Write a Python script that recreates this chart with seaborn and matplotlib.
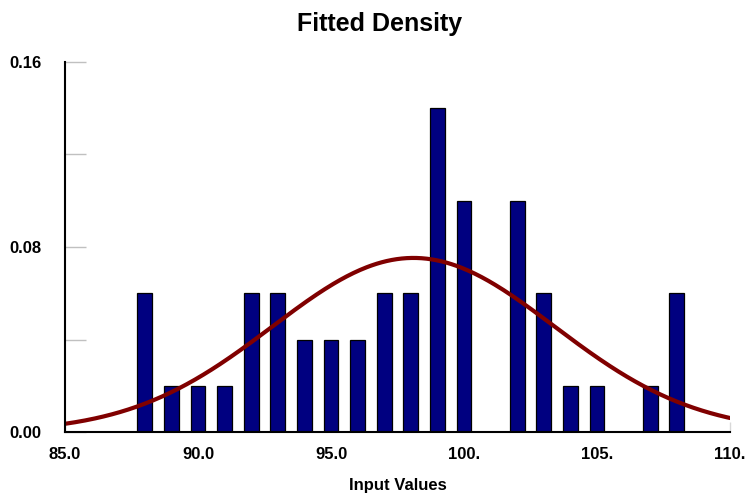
import numpy as np
import pandas as pd
import matplotlib
matplotlib.use("Agg")
import matplotlib.pyplot as plt
import seaborn as sns

# Data
bin_centers = [88, 89, 90, 91, 92, 93, 94, 95, 96, 97, 98, 99, 100, 102, 103, 104, 105, 107, 108]
bin_density = [0.06, 0.02, 0.02, 0.02, 0.06, 0.06, 0.04, 0.04, 0.04, 0.06, 0.06, 0.14, 0.10,
               0.10, 0.06, 0.02, 0.02, 0.02, 0.06]
fit_mean = 98.1
fit_sd = 5.3
x_ticks = [85, 90, 95, 100, 105, 110]
x_tick_labels = ["85.0", "90.0", "95.0", "100.", "105.", "110."]
y_ticks = [0.0, 0.04, 0.08, 0.12, 0.16]
y_tick_labels = ["0.00", "", "0.08", "", "0.16"]

sns.set_theme(style="white")
plt.rcParams["font.family"] = ["Liberation Sans", "DejaVu Sans"]
plt.rcParams["text.color"] = "black"
plt.rcParams["axes.labelcolor"] = "black"
plt.rcParams["xtick.labelcolor"] = "black"
plt.rcParams["ytick.labelcolor"] = "black"

fig = plt.figure(figsize=(7.45, 4.95), dpi=100)
ax = fig.add_axes([65 / 745, 63 / 495, 665 / 745, 370 / 495])

df = pd.DataFrame({"x": bin_centers, "density": bin_density})
sns.barplot(data=df, x="x", y="density", native_scale=True, width=0.55,
            color="#000080", saturation=1, edgecolor="black", linewidth=0.9, ax=ax)

xs = np.linspace(85, 110, 400)
pdf = np.exp(-0.5 * ((xs - fit_mean) / fit_sd) ** 2) / (fit_sd * np.sqrt(2 * np.pi))
sns.lineplot(x=xs, y=pdf, color="#800000", linewidth=3, ax=ax)

ax.set_xlim(85, 110)
ax.set_ylim(0, 0.16)
ax.set_xticks(x_ticks)
ax.set_xticklabels(x_tick_labels, fontsize=12, fontweight="bold", color="black")
ax.set_yticks(y_ticks)
ax.set_yticklabels(y_tick_labels, fontsize=12, fontweight="bold", color="black")
ax.tick_params(axis="y", left=True, direction="in", length=15, width=1, color="#c0c0c0", pad=17)
ax.tick_params(axis="x", bottom=True, direction="in", length=7, width=1, color="#d8d8d8", pad=11)

for s in ["top", "right"]:
    ax.spines[s].set_visible(False)
for s in ["left", "bottom"]:
    ax.spines[s].set_color("black")
    ax.spines[s].set_linewidth(1.5)
    ax.spines[s].set_zorder(5)

ax.set_xlabel("Input Values", fontsize=12, fontweight="bold", labelpad=11, color="black")
ax.set_ylabel("")
fig.text(0.510, 0.952, "Fitted Density", ha="center", va="center", fontsize=18,
         fontweight="bold", color="black")

fig.savefig("out.png", dpi=100)
